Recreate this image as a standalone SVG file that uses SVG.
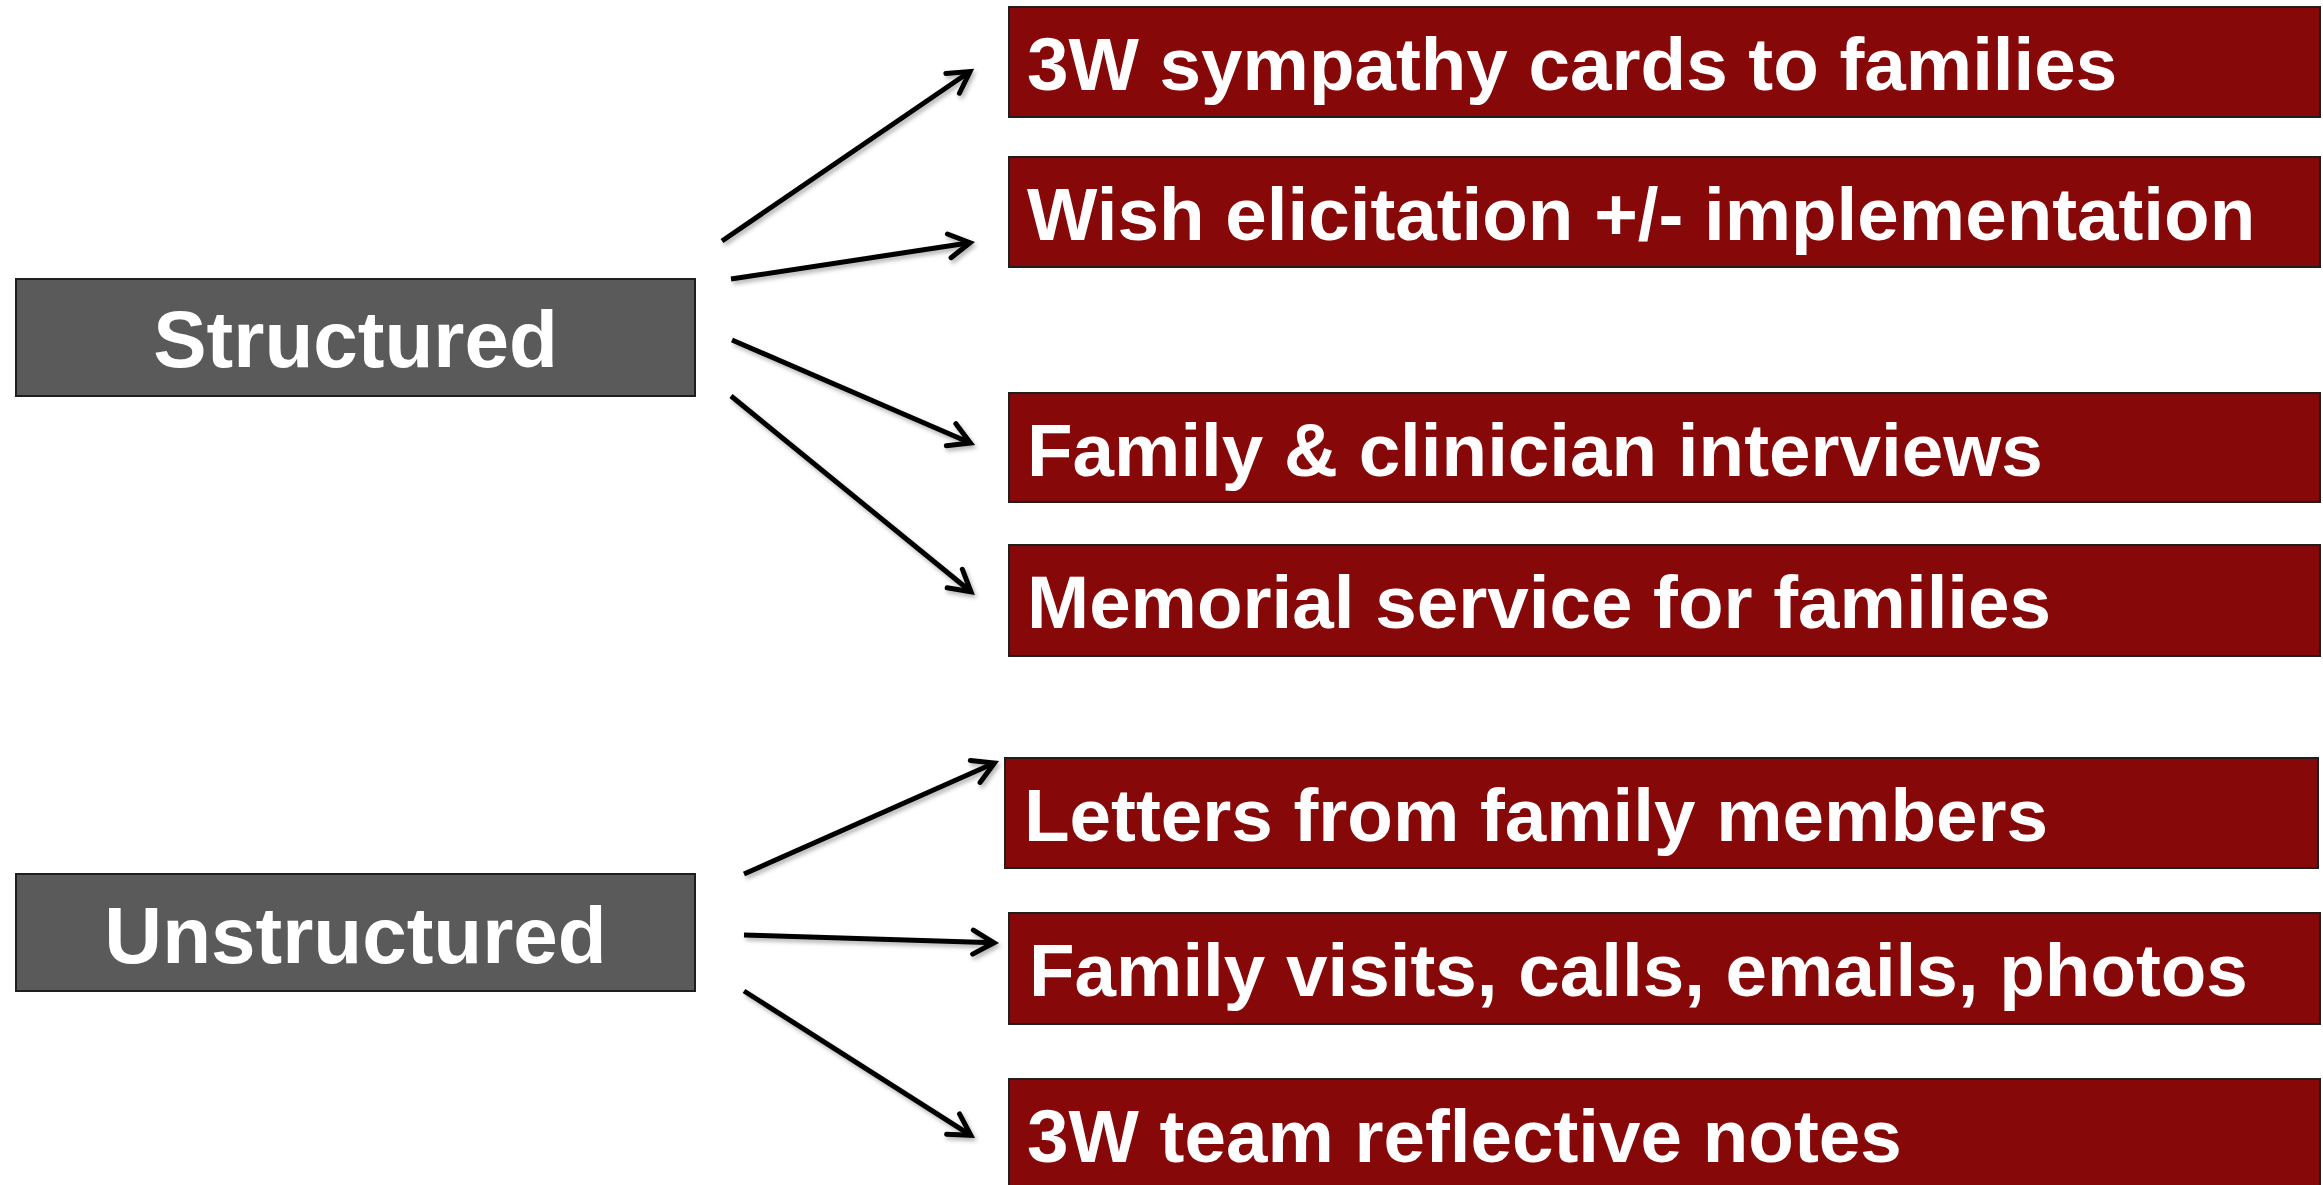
<svg xmlns="http://www.w3.org/2000/svg" width="2323" height="1185" viewBox="0 0 2323 1185">
<defs>
<style>
.bg{fill:#ffffff}
.gray rect{fill:#5a5a5a;stroke:#1e1e1e;stroke-width:2}
.red rect{fill:#870808;stroke:#1e1e1e;stroke-width:2}
text{font-family:"Liberation Sans",Arial,sans-serif;font-weight:bold;fill:#ffffff}
.gray text{font-size:80px;text-anchor:middle}
.red text{font-size:74.6px}
.conn line{stroke:#000;stroke-width:5;fill:none;marker-end:url(#arr)}
</style>
<marker id="arr" markerUnits="userSpaceOnUse" viewBox="-30 -20 40 40" markerWidth="40" markerHeight="40" refX="0" refY="0" orient="auto">
<path d="M-21,-12 L0,0 L-21,12" fill="none" stroke="#000" stroke-width="5" stroke-linejoin="miter" stroke-linecap="round"/>
</marker>
<filter id="sh" x="-10%" y="-10%" width="130%" height="130%">
<feDropShadow dx="2" dy="3" stdDeviation="2" flood-color="#000" flood-opacity="0.3"/>
</filter>
</defs>
<rect class="bg" x="0" y="0" width="2323" height="1185"/>

<g id="structured" class="gray"><rect x="16" y="279" width="679" height="117"/><text x="355.5" y="367">Structured</text></g>
<g id="unstructured" class="gray"><rect x="16" y="874" width="679" height="117"/><text x="355.5" y="963">Unstructured</text></g>

<g id="n1" class="red"><rect x="1009" y="7" width="1311" height="110"/><text x="1027" y="90">3W sympathy cards to families</text></g>
<g id="n2" class="red"><rect x="1009" y="157" width="1311" height="110"/><text x="1027" y="240">Wish elicitation +/- implementation</text></g>
<g id="n3" class="red"><rect x="1009" y="393" width="1311" height="109"/><text x="1027" y="476">Family &amp; clinician interviews</text></g>
<g id="n4" class="red"><rect x="1009" y="545" width="1311" height="111"/><text x="1027" y="628">Memorial service for families</text></g>
<g id="n5" class="red"><rect x="1005" y="758" width="1313" height="110"/><text x="1024" y="841">Letters from family members</text></g>
<g id="n6" class="red"><rect x="1009" y="913" width="1311" height="111"/><text x="1029" y="996">Family visits, calls, emails, photos</text></g>
<g id="n7" class="red"><rect x="1009" y="1079" width="1311" height="120"/><text x="1027" y="1162">3W team reflective notes</text></g>

<g id="connectors" class="conn" filter="url(#sh)">
<line x1="722" y1="241" x2="970" y2="71.5"/>
<line x1="731" y1="279" x2="970" y2="242.7"/>
<line x1="732" y1="340" x2="970.4" y2="443"/>
<line x1="731" y1="396" x2="971" y2="591.8"/>
<line x1="744" y1="874" x2="994.4" y2="763"/>
<line x1="744" y1="935" x2="994" y2="942.8"/>
<line x1="744" y1="991" x2="970.8" y2="1135.3"/>
</g>
</svg>
